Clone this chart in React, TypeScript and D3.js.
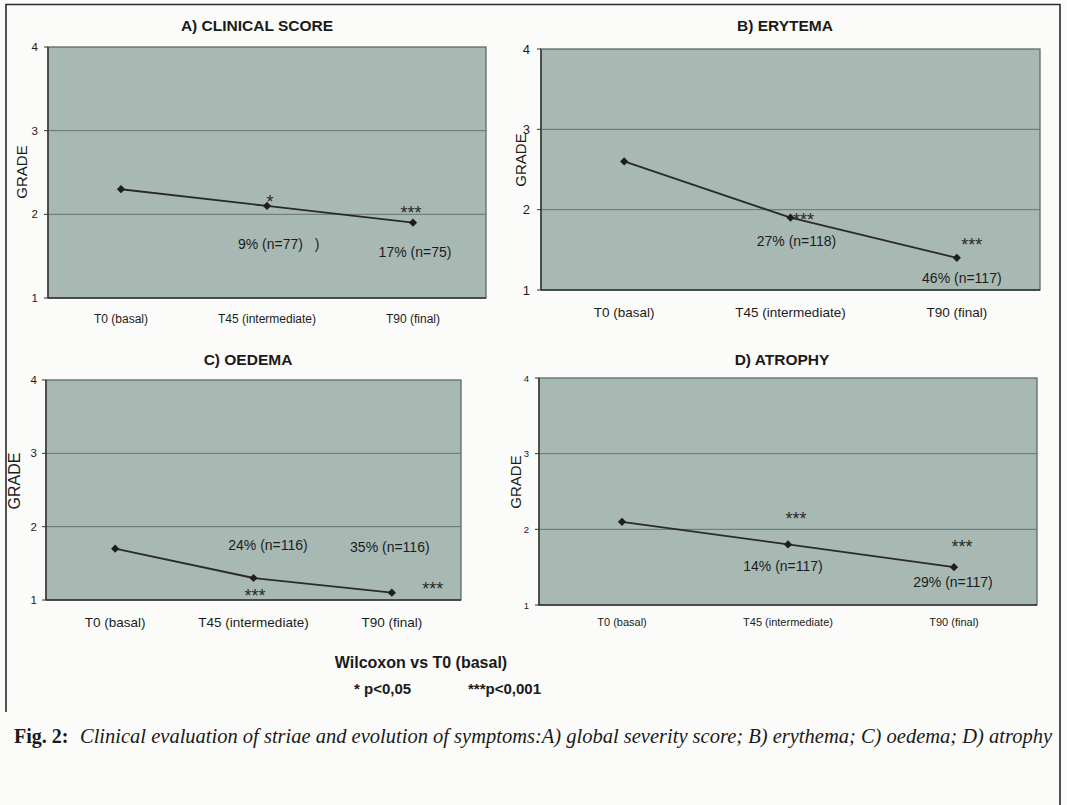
import * as d3 from 'd3';
import { useEffect, useRef } from 'react';

// categories + values
const categories = ['T0 (basal)', 'T45 (intermediate)', 'T90 (final)'];
const gradeTicks = [1, 2, 3, 4];
const gridTicks = [2, 3];

const clinicalScore = [2.3, 2.1, 1.9];
const erythema = [2.6, 1.9, 1.4];
const oedema = [1.7, 1.3, 1.1];
const atrophy = [2.1, 1.8, 1.5];

const clinicalPct = ['', '9% (n=77)   )', '17% (n=75)'];
const erythemaPct = ['', '27% (n=118)', '46% (n=117)'];
const oedemaPct = ['', '24% (n=116)', '35% (n=116)'];
const atrophyPct = ['', '14% (n=117)', '29% (n=117)'];

const clinicalStars = ['', '*', '***'];
const erythemaStars = ['', '***', '***'];
const oedemaStars = ['', '***', '***'];
const atrophyStars = ['', '***', '***'];

const panelTitles = ['A) CLINICAL SCORE', 'B) ERYTEMA', 'C) OEDEMA', 'D) ATROPHY'];
const yTitle = 'GRADE';
const legendTitle = 'Wilcoxon vs T0 (basal)';
const legendNotes = ['* p<0,05', '***p<0,001'];
const captionLead = 'Fig. 2:';
const captionText = 'Clinical evaluation of striae and evolution of symptoms:A) global severity score; B) erythema; C) oedema; D) atrophy';

const SANS = '"Liberation Sans", Arial, Helvetica, sans-serif';
const SERIF = '"Liberation Serif", "Times New Roman", serif';

// layout for each panel (pixel boxes and label offsets from the marker)
const panels = [
  {
    values: clinicalScore, pct: clinicalPct, stars: clinicalStars, title: panelTitles[0],
    left: 48, right: 486, top: 47, bottom: 298,
    titleX: 257, titleY: 31, tickSize: 11.5, tickX: 38, catSize: 12, catY: 323,
    gradeX: 21, gradeY: 172, gradeSize: 15,
    pctOff: [null, { dx: -29, dy: 43, anchor: 'start' }, { dx: 2, dy: 34 }],
    starOff: [null, { dx: 3, dy: 2 }, { dx: -2, dy: -4 }],
  },
  {
    values: erythema, pct: erythemaPct, stars: erythemaStars, title: panelTitles[1],
    left: 541, right: 1040, top: 49, bottom: 290,
    titleX: 785, titleY: 31, tickSize: 13, tickX: 530, catSize: 13.5, catY: 317,
    gradeX: 520, gradeY: 160, gradeSize: 15,
    pctOff: [null, { dx: 6, dy: 28 }, { dx: 5, dy: 25 }],
    starOff: [null, { dx: 13, dy: 8 }, { dx: 15, dy: -7 }],
  },
  {
    values: oedema, pct: oedemaPct, stars: oedemaStars, title: panelTitles[2],
    left: 46, right: 461, top: 380, bottom: 600,
    titleX: 248, titleY: 365, tickSize: 11.5, tickX: 37, catSize: 13.5, catY: 627,
    gradeX: 14, gradeY: 481, gradeSize: 16,
    pctOff: [null, { dx: 14.5, dy: -28 }, { dx: -2, dy: -40.7 }],
    starOff: [null, { dx: 1.5, dy: 24 }, { dx: 41, dy: 2.3 }],
  },
  {
    values: atrophy, pct: atrophyPct, stars: atrophyStars, title: panelTitles[3],
    left: 539, right: 1037, top: 378, bottom: 605,
    titleX: 782, titleY: 365, tickSize: 9.5, tickX: 529, catSize: 11, catY: 626,
    gradeX: 515, gradeY: 482, gradeSize: 15,
    pctOff: [null, { dx: -5, dy: 26.5 }, { dx: -1, dy: 19.8 }],
    starOff: [null, { dx: 8, dy: -19.5 }, { dx: 8, dy: -14 }],
  },
];

const App = () => {
  const ref = useRef<SVGSVGElement | null>(null);

  useEffect(() => {
    if (!ref.current) return;
    const svg = d3.select(ref.current);
    svg.selectAll('*').remove();

    svg.append('rect').attr('width', 1067).attr('height', 805).attr('fill', '#fbfbf9');

    // outer frame of the figure
    svg.append('path')
      .attr('d', 'M6,712 L6,4.5 L1060,4.5 L1060,805')
      .attr('fill', 'none').attr('stroke', '#2b2b2b').attr('stroke-width', 1.6);

    panels.forEach((p) => {
      const g = svg.append('g');
      const x = d3.scaleBand().domain(categories).range([p.left, p.right]);
      const y = d3.scaleLinear().domain([1, 4]).range([p.bottom, p.top]);
      const cx = (c: string) => (x(c) as number) + x.bandwidth() / 2;

      g.append('rect')
        .attr('x', p.left).attr('y', p.top)
        .attr('width', p.right - p.left).attr('height', p.bottom - p.top)
        .attr('fill', '#a8b9b3').attr('stroke', '#5e6a66').attr('stroke-width', 1.3);

      g.selectAll('.grid').data(gridTicks).enter().append('line')
        .attr('x1', p.left).attr('x2', p.right)
        .attr('y1', (d) => y(d)).attr('y2', (d) => y(d))
        .attr('stroke', '#65746e').attr('stroke-width', 1);

      // axes lines
      g.append('line').attr('x1', p.left).attr('x2', p.left).attr('y1', p.top).attr('y2', p.bottom)
        .attr('stroke', '#333').attr('stroke-width', 1.4);
      g.append('line').attr('x1', p.left).attr('x2', p.right).attr('y1', p.bottom).attr('y2', p.bottom)
        .attr('stroke', '#333').attr('stroke-width', 1.6);

      g.selectAll('.ytick').data(gradeTicks).enter().append('line')
        .attr('x1', p.left - 4).attr('x2', p.left)
        .attr('y1', (d) => y(d)).attr('y2', (d) => y(d))
        .attr('stroke', '#333').attr('stroke-width', 1);

      g.selectAll('.ylab').data(gradeTicks).enter().append('text')
        .attr('x', p.tickX).attr('y', (d) => y(d))
        .attr('text-anchor', 'end').attr('dominant-baseline', 'central')
        .attr('font-family', SANS).attr('font-size', p.tickSize).attr('fill', '#1c1c1c')
        .text((d) => d);

      g.selectAll('.xlab').data(categories).enter().append('text')
        .attr('x', (d) => cx(d)).attr('y', p.catY)
        .attr('text-anchor', 'middle')
        .attr('font-family', SANS).attr('font-size', p.catSize).attr('fill', '#1c1c1c')
        .text((d) => d);

      g.append('text')
        .attr('transform', `translate(${p.gradeX},${p.gradeY}) rotate(-90)`)
        .attr('text-anchor', 'middle').attr('dominant-baseline', 'central')
        .attr('font-family', SANS).attr('font-size', p.gradeSize).attr('fill', '#1c1c1c')
        .text(yTitle);

      g.append('text')
        .attr('x', p.titleX).attr('y', p.titleY)
        .attr('text-anchor', 'middle')
        .attr('font-family', SANS).attr('font-weight', 'bold').attr('font-size', 15.5).attr('fill', '#1a1a1a')
        .text(p.title);

      const line = d3.line<number>()
        .x((d, i) => cx(categories[i]))
        .y((d) => y(d));

      g.append('path').datum(p.values)
        .attr('d', line)
        .attr('fill', 'none').attr('stroke', '#2a2a2a').attr('stroke-width', 1.8);

      // square symbol turned 45deg = the excel diamond marker
      const diamond = d3.symbol().type(d3.symbolSquare).size(34);
      g.selectAll('.pt').data(p.values).enter().append('path')
        .attr('d', diamond)
        .attr('transform', (d, i) => `translate(${cx(categories[i])},${y(d)}) rotate(45)`)
        .attr('fill', '#1e1e1e');

      p.values.forEach((v, i) => {
        const px = cx(categories[i]);
        const py = y(v);
        const po = p.pctOff[i];
        if (po && p.pct[i]) {
          g.append('text')
            .attr('x', px + po.dx).attr('y', py + po.dy)
            .attr('text-anchor', po.anchor || 'middle')
            .style('white-space', 'pre')
            .attr('font-family', SANS).attr('font-size', 14).attr('fill', '#1c1c1c')
            .text(p.pct[i]);
        }
        const so = p.starOff[i];
        if (so && p.stars[i]) {
          g.append('text')
            .attr('x', px + so.dx).attr('y', py + so.dy)
            .attr('text-anchor', 'middle')
            .attr('font-family', SANS).attr('font-size', 18).attr('fill', '#2a2a2a')
            .text(p.stars[i]);
        }
      });
    });

    // significance legend
    svg.append('text')
      .attr('x', 421).attr('y', 668).attr('text-anchor', 'middle')
      .attr('font-family', SANS).attr('font-weight', 'bold').attr('font-size', 16).attr('fill', '#1a1a1a')
      .text(legendTitle);
    svg.append('text')
      .attr('x', 354).attr('y', 694)
      .attr('font-family', SANS).attr('font-weight', 'bold').attr('font-size', 15).attr('fill', '#1a1a1a')
      .text(legendNotes[0]);
    svg.append('text')
      .attr('x', 468).attr('y', 694)
      .attr('font-family', SANS).attr('font-weight', 'bold').attr('font-size', 15).attr('fill', '#1a1a1a')
      .text(legendNotes[1]);

    // figure caption
    svg.append('text')
      .attr('x', 14).attr('y', 743)
      .attr('font-family', SERIF).attr('font-weight', 'bold').attr('font-size', 20).attr('fill', '#1a1a1a')
      .text(captionLead);
    svg.append('text')
      .attr('x', 80).attr('y', 743)
      .attr('textLength', 972).attr('lengthAdjust', 'spacingAndGlyphs')
      .attr('font-family', SERIF).attr('font-style', 'italic').attr('font-size', 20).attr('fill', '#1a1a1a')
      .text(captionText);
  }, []);

  return (
    <svg ref={ref} width={1067} height={805}
      style={{ position: 'absolute', left: 0, top: 0, display: 'block' }} />
  );
};

export default App;
